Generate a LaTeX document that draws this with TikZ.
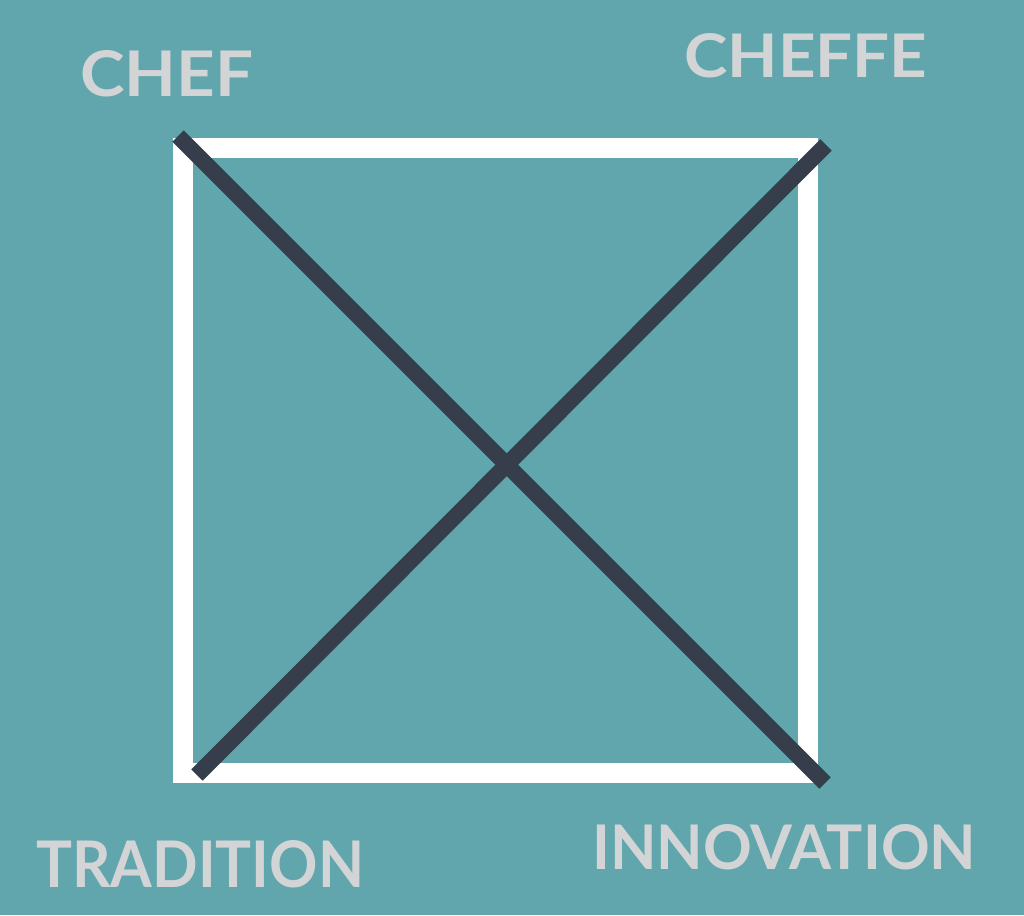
\documentclass[tikz,border=0pt]{standalone}
\usepackage{fontspec}
\setmainfont{Lato}
\definecolor{bgteal}{RGB}{96,166,172}
\definecolor{crossdark}{RGB}{54,62,75}
\definecolor{labelgray}{RGB}{211,212,214}
\begin{document}
\begin{tikzpicture}[x=1pt,y=-1pt,
  frame/.style={draw=white,line width=20pt},
  crossline/.style={draw=crossdark,line width=16pt},
  lbl/.style={inner sep=0pt,anchor=base west,text=labelgray,font=\bfseries}]
\useasboundingbox[fill=bgteal] (0,0) rectangle (1024,915);
\coordinate (tl) at (183,147.5);
\coordinate (br) at (808,772.5);
\draw[frame] (tl) rectangle (br);
\coordinate (d1a) at (178,136);
\coordinate (d1b) at (825,783);
\coordinate (d2a) at (826,145);
\coordinate (d2b) at (197,775);
\draw[crossline] (d1a) -- (d1b);
\draw[crossline] (d2a) -- (d2b);
\node[lbl] (chef) at (80,97) {\resizebox{173pt}{46pt}{CHEF}};
\node[lbl] (cheffe) at (684,78) {\resizebox{243pt}{44pt}{CHEFFE}};
\node[lbl] (tradition) at (36,887) {\resizebox{328pt}{47pt}{TRADITION}};
\node[lbl] (innovation) at (592,869) {\resizebox{384pt}{45pt}{INNOVATION}};
\end{tikzpicture}
\end{document}
